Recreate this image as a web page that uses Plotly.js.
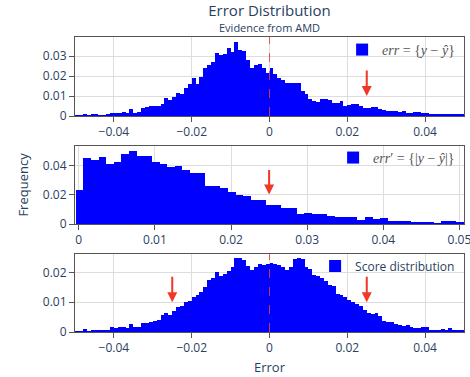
<!DOCTYPE html>
<html>
<head>
<meta charset="utf-8">
<script src="https://cdn.plot.ly/plotly-3.0.1.min.js"></script>
<style>html,body{margin:0;padding:0;background:#fff;}#chart{width:470px;height:377px;}</style>
</head>
<body>
<div id="chart"></div>
<script>
// ---- data ----
const binWidth = 0.001;
const errBinStart = -0.05;
const errFreq = [
  0.0003,0.0005,0.0010,0.0003,0.0010,0.0010,0.0007,0.0007,0.0009,0.0013,
  0.0013,0.0017,0.0022,0.0013,0.0033,0.0017,0.0020,0.0042,0.0045,0.0048,
  0.0048,0.0050,0.0058,0.0088,0.0078,0.0097,0.0117,0.0112,0.0142,0.0160,
  0.0188,0.0162,0.0197,0.0240,0.0253,0.0272,0.0317,0.0307,0.0308,0.0338,
  0.0322,0.0370,0.0328,0.0325,0.0278,0.0238,0.0253,0.0258,0.0238,0.0217,
  0.0238,0.0208,0.0188,0.0178,0.0167,0.0167,0.0163,0.0163,0.0125,0.0108,
  0.0083,0.0075,0.0070,0.0087,0.0087,0.0078,0.0067,0.0067,0.0075,0.0050,
  0.0053,0.0058,0.0058,0.0050,0.0042,0.0042,0.0045,0.0045,0.0033,0.0030,
  0.0027,0.0023,0.0023,0.0020,0.0023,0.0017,0.0015,0.0018,0.0018,0.0013,
  0.0017,0.0010,0.0010,0.0012,0.0010,0.0008,0.0012,0.0008,0.0010,0.0010
];
const absBinStart = -0.0004;
const absFreq = [
  0.0233,0.0450,0.0441,0.0461,0.0411,0.0427,0.0479,0.0504,0.0468,0.0468,
  0.0427,0.0411,0.0393,0.0398,0.0371,0.0353,0.0353,0.0262,0.0262,0.0246,
  0.0221,0.0199,0.0192,0.0163,0.0163,0.0129,0.0129,0.0113,0.0108,0.0068,
  0.0075,0.0066,0.0066,0.0054,0.0045,0.0050,0.0050,0.0027,0.0045,0.0036,
  0.0038,0.0020,0.0020,0.0020,0.0014,0.0014,0.0016,0.0009,0.0020,0.0020,
  0.0014,0.0009
];
const scoreBinStart = -0.05;
const scoreFreq = [
  0.0003,0.0004,0.0011,0.0002,0.0008,0.0008,0.0006,0.0006,0.0008,0.0017,
  0.0015,0.0017,0.0016,0.0015,0.0026,0.0018,0.0018,0.0029,0.0031,0.0035,
  0.0037,0.0039,0.0058,0.0064,0.0056,0.0069,0.0084,0.0086,0.0101,0.0105,
  0.0119,0.0123,0.0134,0.0153,0.0176,0.0182,0.0201,0.0190,0.0195,0.0204,
  0.0218,0.0248,0.0248,0.0242,0.0221,0.0208,0.0218,0.0229,0.0225,0.0229,
  0.0232,0.0229,0.0224,0.0218,0.0210,0.0220,0.0244,0.0248,0.0246,0.0218,
  0.0213,0.0192,0.0188,0.0181,0.0170,0.0157,0.0154,0.0129,0.0123,0.0117,
  0.0106,0.0101,0.0093,0.0086,0.0073,0.0065,0.0060,0.0064,0.0053,0.0036,
  0.0034,0.0032,0.0028,0.0025,0.0020,0.0025,0.0017,0.0013,0.0013,0.0016,
  0.0016,0.0008,0.0008,0.0008,0.0009,0.0006,0.0012,0.0007,0.0007,0.0007
];
const legendNames = [
  '<i>err</i> = {<i>y</i> \u2212 <i>\u0177</i>}',
  '<i>err</i>\u2032 = {|<i>y</i> \u2212 <i>\u0177</i>|}',
  'Score distribution'
];
const arrowX = [0.025, 0.025, -0.025, 0.025];
const titleText = 'Error Distribution';
const subtitleText = 'Evidence from AMD';
const xLabel = 'Error';
const yLabel = 'Frequency';

// ---- build ----
function centers(start, n) { return Array.from({length: n}, (_, i) => start + (i + 0.5) * binWidth); }
const blue = '#0000ff';
const red = 'rgb(240,55,40)';
const fontColor = '#2a3f5f';

const traces = [
  {type: 'bar', x: centers(errBinStart, errFreq.length), y: errFreq, width: binWidth,
   marker: {color: blue}, name: legendNames[0], xaxis: 'x', yaxis: 'y', legend: 'legend', showlegend: true},
  {type: 'bar', x: centers(absBinStart, absFreq.length), y: absFreq, width: binWidth,
   marker: {color: blue}, name: legendNames[1], xaxis: 'x2', yaxis: 'y2', legend: 'legend2', showlegend: true},
  {type: 'bar', x: centers(scoreBinStart, scoreFreq.length), y: scoreFreq, width: binWidth,
   marker: {color: blue}, name: legendNames[2], xaxis: 'x3', yaxis: 'y3', legend: 'legend3', showlegend: true}
];

const axisCommon = {
  showline: true, mirror: true, linecolor: '#555', linewidth: 1,
  ticks: 'outside', ticklen: 5, tickcolor: '#555',
  showgrid: true, gridcolor: '#dddddd', zeroline: false,
  tickfont: {size: 12, color: fontColor}
};

function arrow(xv, yv, xr, yr, ay) {
  return {x: xv, y: yv, xref: xr, yref: yr, text: '', showarrow: true,
          ax: 0, ay: ay, arrowhead: 2, arrowsize: 1, arrowwidth: 2, arrowcolor: red};
}

const serifFont = {family: '"Liberation Serif", "DejaVu Serif", serif', size: 14, color: '#555'};

const layout = {
  width: 470, height: 377,
  margin: {l: 75, r: 6, t: 37, b: 45},
  paper_bgcolor: '#fff', plot_bgcolor: '#fff',
  font: {family: '"Open Sans", verdana, arial, sans-serif', size: 12, color: fontColor},
  bargap: 0,
  showlegend: true,
  title: {text: titleText, x: 0.5, xref: 'paper', xanchor: 'center',
          y: 1 - 10.5 / 377, yref: 'container', yanchor: 'middle',
          font: {size: 15, color: fontColor}},
  xaxis: Object.assign({}, axisCommon, {domain: [0, 1], range: [-0.05, 0.05], dtick: 0.02, anchor: 'y'}),
  yaxis: Object.assign({}, axisCommon, {domain: [0.732, 1], range: [0, 0.0395], dtick: 0.01, anchor: 'x'}),
  xaxis2: Object.assign({}, axisCommon, {domain: [0, 1], range: [-0.0005, 0.0506], dtick: 0.01, anchor: 'y2',
                                         ticklabeloverflow: 'allow'}),
  yaxis2: Object.assign({}, axisCommon, {domain: [0.366, 0.6305], range: [0, 0.0535], dtick: 0.02, anchor: 'x2'}),
  xaxis3: Object.assign({}, axisCommon, {domain: [0, 1], range: [-0.05, 0.05], dtick: 0.02, anchor: 'y3'}),
  yaxis3: Object.assign({}, axisCommon, {domain: [0, 0.264], range: [0, 0.0262], dtick: 0.01, anchor: 'x3'}),
  legend: {x: 0.99, xanchor: 'right', y: 0.956, yanchor: 'middle', bgcolor: 'rgba(255,255,255,0)', font: serifFont},
  legend2: {x: 0.99, xanchor: 'right', y: 0.59, yanchor: 'middle', bgcolor: 'rgba(255,255,255,0)', font: serifFont},
  legend3: {x: 0.99, xanchor: 'right', y: 0.224, yanchor: 'middle', bgcolor: 'rgba(255,255,255,0)',
            font: {size: 12, color: fontColor}},
  shapes: [
    {type: 'line', xref: 'x', yref: 'y domain', x0: 0, x1: 0, y0: 0, y1: 1, layer: 'above',
     line: {color: 'rgba(235,60,60,0.85)', width: 1, dash: 'dash'}},
    {type: 'line', xref: 'x3', yref: 'y3 domain', x0: 0, x1: 0, y0: 0, y1: 1, layer: 'above',
     line: {color: 'rgba(235,60,60,0.85)', width: 1, dash: 'dash'}}
  ],
  annotations: [
    arrow(arrowX[0], 0.0100, 'x', 'y', -27),
    arrow(arrowX[1], 0.0203, 'x2', 'y2', -26),
    arrow(arrowX[2], 0.0100, 'x3', 'y3', -27),
    arrow(arrowX[3], 0.0100, 'x3', 'y3', -27),
    {text: subtitleText, xref: 'paper', yref: 'paper', x: 0.5, y: (332 - 27) / 295, xanchor: 'center', yanchor: 'middle',
     showarrow: false, font: {size: 11, color: fontColor}},
    {text: yLabel, xref: 'paper', yref: 'paper', x: -0.136, y: 0.5, xanchor: 'center', yanchor: 'middle',
     textangle: -90, showarrow: false, font: {size: 13, color: fontColor}},
    {text: xLabel, xref: 'paper', yref: 'paper', x: 0.5, y: -0.1186, xanchor: 'center', yanchor: 'middle',
     showarrow: false, font: {size: 13, color: fontColor}}
  ]
};

Plotly.newPlot('chart', traces, layout, {displayModeBar: false, staticPlot: true});
</script>
</body>
</html>
